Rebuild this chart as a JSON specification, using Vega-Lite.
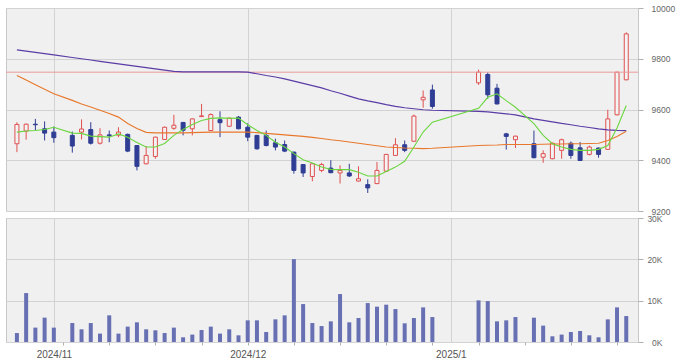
{
  "$schema": "https://vega.github.io/schema/vega-lite/v6.json",
  "padding": {"left": 5, "top": 3, "right": 5, "bottom": 2},
  "background": "white",
  "spacing": 7,
  "bounds": "flush",
  "config": {
    "view": {"fill": "#f0f0f0", "stroke": "#c8c8c8"},
    "axis": {"labelFont": "Liberation Sans", "labelColor": "#666666", "gridColor": "#d2d2d2", "tickColor": "#b0b0b0", "domain": false, "title": null}
  },
  "data": {"values": [
    {"i":0,"o":9465,"h":9550,"l":9432,"c":9541,"v":2170,"m5":9511,"m25":9734,"m75":9835},
    {"i":1,"o":9515,"h":9545,"l":9481,"c":9542,"v":11840,"m5":9515,"m25":9716,"m75":9830},
    {"i":2,"o":9542,"h":9563,"l":9517,"c":9540,"v":3480,"m5":9517,"m25":9698,"m75":9825},
    {"i":3,"o":9524,"h":9553,"l":9478,"c":9507,"v":5890,"m5":9521,"m25":9680,"m75":9820},
    {"i":4,"o":9511,"h":9533,"l":9469,"c":9489,"v":3480,"m5":9530,"m25":9662,"m75":9815},
    {"i":6,"o":9498,"h":9513,"l":9430,"c":9456,"v":4590,"m5":9507,"m25":9636,"m75":9805},
    {"i":7,"o":9511,"h":9561,"l":9482,"c":9523,"v":3070,"m5":9506,"m25":9622,"m75":9800},
    {"i":8,"o":9521,"h":9550,"l":9462,"c":9467,"v":4590,"m5":9495,"m25":9610,"m75":9795},
    {"i":9,"o":9467,"h":9526,"l":9462,"c":9500,"v":2030,"m5":9493,"m25":9597,"m75":9790},
    {"i":10,"o":9500,"h":9517,"l":9471,"c":9497,"v":6450,"m5":9491,"m25":9584,"m75":9785},
    {"i":11,"o":9499,"h":9530,"l":9491,"c":9511,"v":2030,"m5":9504,"m25":9570,"m75":9780},
    {"i":12,"o":9502,"h":9505,"l":9432,"c":9436,"v":3720,"m5":9491,"m25":9545,"m75":9775},
    {"i":13,"o":9458,"h":9460,"l":9360,"c":9376,"v":4760,"m5":9470,"m25":9525,"m75":9770},
    {"i":14,"o":9386,"h":9456,"l":9384,"c":9419,"v":3070,"m5":9452,"m25":9510,"m75":9765},
    {"i":15,"o":9415,"h":9493,"l":9406,"c":9491,"v":2830,"m5":9452,"m25":9508,"m75":9760},
    {"i":16,"o":9482,"h":9533,"l":9480,"c":9530,"v":2170,"m5":9466,"m25":9508,"m75":9755},
    {"i":17,"o":9526,"h":9579,"l":9520,"c":9538,"v":3480,"m5":9498,"m25":9508,"m75":9750},
    {"i":18,"o":9549,"h":9551,"l":9498,"c":9518,"v":1140,"m5":9521,"m25":9508,"m75":9748},
    {"i":19,"o":9524,"h":9565,"l":9498,"c":9563,"v":1790,"m5":9541,"m25":9509,"m75":9748},
    {"i":20,"o":9572,"h":9622,"l":9570,"c":9575,"v":2900,"m5":9557,"m25":9510,"m75":9748},
    {"i":21,"o":9517,"h":9585,"l":9515,"c":9580,"v":3720,"m5":9565,"m25":9511,"m75":9748},
    {"i":22,"o":9560,"h":9593,"l":9491,"c":9548,"v":2030,"m5":9567,"m25":9511,"m75":9748},
    {"i":23,"o":9534,"h":9568,"l":9532,"c":9566,"v":3070,"m5":9565,"m25":9511,"m75":9748},
    {"i":24,"o":9570,"h":9574,"l":9522,"c":9524,"v":1620,"m5":9566,"m25":9511,"m75":9748},
    {"i":25,"o":9530,"h":9546,"l":9475,"c":9491,"v":5240,"m5":9540,"m25":9511,"m75":9747},
    {"i":26,"o":9498,"h":9500,"l":9442,"c":9445,"v":5240,"m5":9517,"m25":9509,"m75":9741},
    {"i":27,"o":9498,"h":9517,"l":9455,"c":9458,"v":2420,"m5":9498,"m25":9506,"m75":9734},
    {"i":28,"o":9469,"h":9485,"l":9439,"c":9452,"v":5480,"m5":9471,"m25":9503,"m75":9728},
    {"i":29,"o":9462,"h":9478,"l":9432,"c":9436,"v":6450,"m5":9452,"m25":9500,"m75":9721},
    {"i":30,"o":9432,"h":9434,"l":9347,"c":9360,"v":20050,"m5":9426,"m25":9497,"m75":9712},
    {"i":31,"o":9383,"h":9385,"l":9334,"c":9350,"v":9180,"m5":9402,"m25":9494,"m75":9703},
    {"i":32,"o":9336,"h":9389,"l":9317,"c":9386,"v":4590,"m5":9389,"m25":9490,"m75":9694},
    {"i":33,"o":9360,"h":9390,"l":9353,"c":9383,"v":3860,"m5":9373,"m25":9486,"m75":9685},
    {"i":34,"o":9369,"h":9400,"l":9349,"c":9351,"v":5000,"m5":9364,"m25":9481,"m75":9674},
    {"i":35,"o":9350,"h":9380,"l":9308,"c":9360,"v":11600,"m5":9363,"m25":9477,"m75":9664},
    {"i":36,"o":9350,"h":9386,"l":9334,"c":9338,"v":4760,"m5":9363,"m25":9472,"m75":9653},
    {"i":37,"o":9318,"h":9376,"l":9316,"c":9327,"v":5800,"m5":9353,"m25":9467,"m75":9642},
    {"i":38,"o":9304,"h":9325,"l":9271,"c":9291,"v":9420,"m5":9338,"m25":9462,"m75":9634},
    {"i":39,"o":9308,"h":9393,"l":9306,"c":9360,"v":8550,"m5":9338,"m25":9457,"m75":9627},
    {"i":40,"o":9357,"h":9425,"l":9354,"c":9423,"v":9030,"m5":9356,"m25":9452,"m75":9619},
    {"i":41,"o":9419,"h":9487,"l":9417,"c":9461,"v":7970,"m5":9373,"m25":9450,"m75":9612},
    {"i":42,"o":9461,"h":9478,"l":9432,"c":9439,"v":4520,"m5":9396,"m25":9448,"m75":9607},
    {"i":43,"o":9475,"h":9580,"l":9473,"c":9574,"v":5800,"m5":9452,"m25":9447,"m75":9603},
    {"i":44,"o":9638,"h":9675,"l":9607,"c":9648,"v":8380,"m5":9511,"m25":9446,"m75":9599},
    {"i":45,"o":9677,"h":9698,"l":9603,"c":9612,"v":6040,"m5":9550,"m25":9447,"m75":9597},
    {"i":50,"o":9705,"h":9757,"l":9697,"c":9747,"v":10070,"m5":9605,"m25":9458,"m75":9593},
    {"i":51,"o":9738,"h":9747,"l":9642,"c":9658,"v":9900,"m5":9648,"m25":9459,"m75":9591},
    {"i":52,"o":9684,"h":9701,"l":9620,"c":9622,"v":5000,"m5":9662,"m25":9460,"m75":9587},
    {"i":53,"o":9504,"h":9508,"l":9442,"c":9494,"v":5240,"m5":9635,"m25":9462,"m75":9583},
    {"i":54,"o":9481,"h":9497,"l":9448,"c":9495,"v":6040,"m5":9609,"m25":9462,"m75":9579},
    {"i":56,"o":9465,"h":9517,"l":9408,"c":9410,"v":5880,"m5":9544,"m25":9462,"m75":9563},
    {"i":57,"o":9412,"h":9439,"l":9390,"c":9426,"v":3960,"m5":9498,"m25":9463,"m75":9557},
    {"i":58,"o":9406,"h":9470,"l":9404,"c":9467,"v":1380,"m5":9465,"m25":9464,"m75":9551},
    {"i":59,"o":9439,"h":9485,"l":9406,"c":9481,"v":1790,"m5":9452,"m25":9464,"m75":9545},
    {"i":60,"o":9467,"h":9474,"l":9406,"c":9419,"v":2420,"m5":9443,"m25":9465,"m75":9540},
    {"i":61,"o":9449,"h":9472,"l":9397,"c":9399,"v":2660,"m5":9439,"m25":9465,"m75":9534},
    {"i":62,"o":9423,"h":9458,"l":9419,"c":9452,"v":1620,"m5":9439,"m25":9466,"m75":9529},
    {"i":63,"o":9448,"h":9450,"l":9410,"c":9423,"v":1140,"m5":9443,"m25":9467,"m75":9524},
    {"i":64,"o":9443,"h":9599,"l":9441,"c":9563,"v":5480,"m5":9458,"m25":9478,"m75":9520},
    {"i":65,"o":9579,"h":9749,"l":9577,"c":9747,"v":8380,"m5":9527,"m25":9494,"m75":9518},
    {"i":66,"o":9717,"h":9904,"l":9715,"c":9898,"v":6280,"m5":9616,"m25":9514,"m75":9517}
  ]},
  "vconcat": [
    {
      "width": 632,
      "height": 203,
      "encoding": {
        "x": {"field": "i", "type": "quantitative", "scale": {"domain": [-0.64, 66.73], "nice": false, "zero": false},
          "axis": {"values": [4, 25, 47], "labels": false, "ticks": false, "grid": true}}
      },
      "layer": [
        {
          "mark": {"type": "rule", "strokeWidth": 1},
          "encoding": {
            "y": {"field": "l", "type": "quantitative", "scale": {"domain": [9200, 10000], "nice": false, "zero": false},
              "axis": {"orient": "right", "values": [9200, 9400, 9600, 9800, 10000], "format": "d", "tickSize": 5, "labelPadding": 8, "labelFontSize": 8.5, "grid": true}},
            "y2": {"field": "h"},
            "color": {"condition": {"test": "datum.c > datum.o", "value": "#e05050"}, "value": "#2f3d94"}
          }
        },
        {
          "mark": {"type": "bar", "size": 4, "strokeWidth": 1},
          "encoding": {
            "y": {"field": "o", "type": "quantitative"},
            "y2": {"field": "c"},
            "fill": {"condition": {"test": "datum.c > datum.o", "value": "#f3f3f3"}, "value": "#2f3d94"},
            "stroke": {"condition": {"test": "datum.c > datum.o", "value": "#e05050"}, "value": "#2f3d94"}
          }
        },
        {
          "data": {"values": [{"level": 9747}]},
          "mark": {"type": "rule", "color": "#eb9c9c", "strokeWidth": 1},
          "encoding": {"x": null, "y": {"field": "level", "type": "quantitative"}}
        },
        {
          "mark": {"type": "line", "color": "#5a3ca6", "strokeWidth": 1.2},
          "encoding": {"y": {"field": "m75", "type": "quantitative"}}
        },
        {
          "mark": {"type": "line", "color": "#e8782c", "strokeWidth": 1.1},
          "encoding": {"y": {"field": "m25", "type": "quantitative"}}
        },
        {
          "mark": {"type": "line", "color": "#6ad63e", "strokeWidth": 1.1},
          "encoding": {"y": {"field": "m5", "type": "quantitative"}}
        }
      ]
    },
    {
      "width": 632,
      "height": 124,
      "mark": {"type": "bar", "size": 4, "color": "#6870b4"},
      "encoding": {
        "x": {"field": "i", "type": "quantitative", "scale": {"domain": [-0.64, 66.73], "nice": false, "zero": false},
          "axis": {
            "values": [4, 5, 10, 15, 20, 25, 30, 35, 40, 45, 47, 50, 55, 60, 65],
            "labelExpr": "datum.value == 4 ? '2024/11' : datum.value == 25 ? '2024/12' : datum.value == 47 ? '2025/1' : ''",
            "labelOverlap": false,
            "labelFontSize": 10,
            "labelColor": "#555555",
            "labelPadding": 4,
            "tickSize": 3,
            "grid": true,
            "gridOpacity": {"condition": {"test": "datum.value == 4 || datum.value == 25 || datum.value == 47", "value": 1}, "value": 0},
            "tickOpacity": {"condition": {"test": "datum.value == 4 || datum.value == 47", "value": 0}, "value": 1}
          }},
        "y": {"field": "v", "type": "quantitative", "scale": {"domain": [0, 30000], "nice": false},
          "axis": {"orient": "right", "values": [0, 10000, 20000, 30000], "labelExpr": "(datum.value / 1000) + 'K'", "tickSize": 5, "labelPadding": 19, "labelAlign": "right", "labelFontSize": 8.5, "grid": true}}
      }
    }
  ]
}
